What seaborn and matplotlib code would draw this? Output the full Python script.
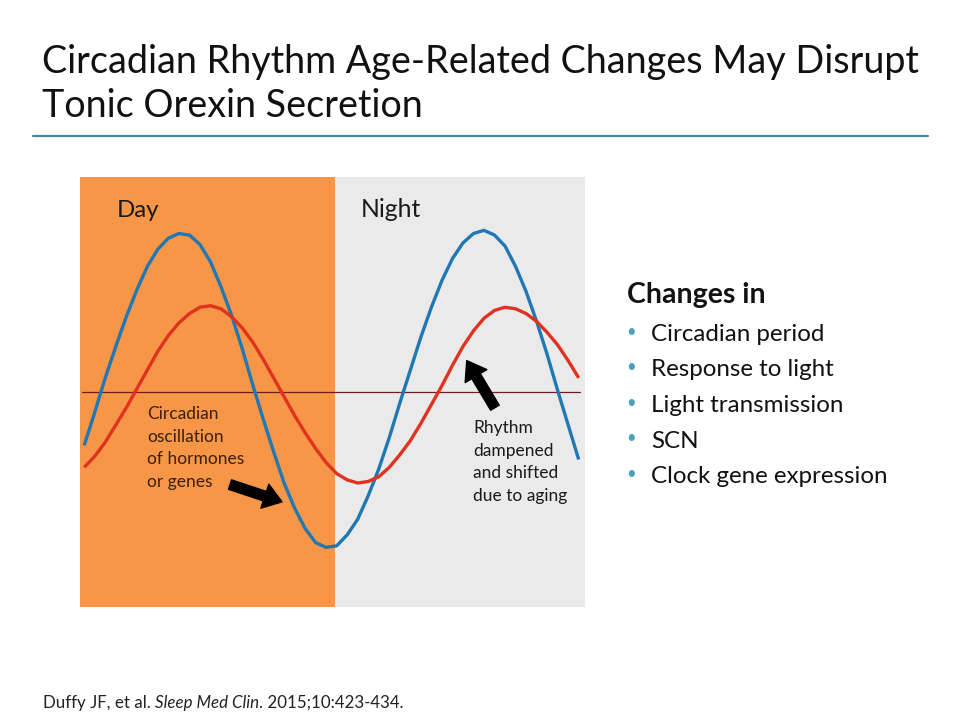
import numpy as np
import pandas as pd
import matplotlib
matplotlib.use('Agg')
import matplotlib.pyplot as plt
import seaborn as sns

# time of day (hours), sampled across the panel
hours = np.arange(0.2, 23.75, 0.5)

# levels (midline = 0)
young_level = [-0.34, -0.13, 0.09, 0.29, 0.48, 0.65, 0.80, 0.91, 0.98, 1.01,
               1.00, 0.94, 0.83, 0.67, 0.49, 0.28, 0.05, -0.17, -0.38, -0.58,
               -0.74, -0.87, -0.96, -0.99, -0.98, -0.91, -0.81, -0.66, -0.49, -0.29,
               -0.07, 0.14, 0.35, 0.54, 0.71, 0.85, 0.95, 1.01, 1.03, 1.00,
               0.93, 0.80, 0.64, 0.45, 0.24, 0.01, -0.21, -0.43]
aged_level = [-0.48, -0.41, -0.32, -0.21, -0.10, 0.02, 0.14, 0.26, 0.36, 0.44,
              0.50, 0.54, 0.55, 0.53, 0.48, 0.41, 0.32, 0.21, 0.09, -0.03,
              -0.15, -0.26, -0.36, -0.45, -0.52, -0.56, -0.58, -0.57, -0.54, -0.48,
              -0.40, -0.31, -0.20, -0.08, 0.04, 0.17, 0.29, 0.39, 0.47, 0.52,
              0.54, 0.53, 0.50, 0.45, 0.38, 0.30, 0.20, 0.09]

day_end = 12.1

title_lines = ['Circadian Rhythm Age-Related Changes May Disrupt',
               'Tonic Orexin Secretion']
changes_head = 'Changes in'
changes_items = ['Circadian period', 'Response to light', 'Light transmission',
                 'SCN', 'Clock gene expression']
note_left = ['Circadian', 'oscillation', 'of hormones', 'or genes']
note_right = ['Rhythm', 'dampened', 'and shifted', 'due to aging']
cite_parts = [('Duffy JF, et al. ', 'normal'), ('Sleep Med Clin', 'italic'),
              ('. 2015;10:423-434.', 'normal')]

df = pd.DataFrame({
    'hour': np.concatenate([hours, hours]),
    'level': young_level + aged_level,
    'curve': ['young'] * len(hours) + ['aged'] * len(hours),
})

sns.set_style('white')
plt.rcParams['font.family'] = ['Lato', 'DejaVu Sans']

W, H = 960, 720
fig = plt.figure(figsize=(9.6, 7.2), dpi=100)


def fx(px):
    return px / W


def fy(py):
    return 1 - py / H


ax = fig.add_axes([fx(80), fy(607), fx(585) - fx(80), fy(177) - fy(607)])
ax.axvspan(0, day_end, color='#F79646', lw=0, zorder=0)
ax.axvspan(day_end, 24, color='#EAEAEA', lw=0, zorder=0)
ax.axhline(0, xmin=0.003, xmax=0.99, color='#6b1f1f', lw=0.9, zorder=1)

sns.lineplot(data=df, x='hour', y='level', hue='curve',
             palette={'young': '#1f78b4', 'aged': '#e0321f'},
             linewidth=2.4, legend=False, errorbar=None, ax=ax, zorder=2,
             solid_joinstyle='round', solid_capstyle='butt')

ax.set_xlim(0, 24)
ax.set_ylim(-1.37, 1.37)
ax.set_xticks([])
ax.set_yticks([])
ax.set_xlabel('')
ax.set_ylabel('')
for s in ax.spines.values():
    s.set_visible(False)

arrow = dict(arrowstyle='simple,head_length=1.0,head_width=1.4,tail_width=0.55',
             color='black', shrinkA=0, shrinkB=0, mutation_scale=13)
ax.annotate('', xy=(9.6, -0.70), xytext=(7.13, -0.59), arrowprops=arrow)
ax.annotate('', xy=(18.38, 0.20), xytext=(19.72, -0.10), arrowprops=arrow)

# title
for i, line in enumerate(title_lines):
    fig.text(fx(42), fy(73 + 44 * i), line, fontsize=27.2, color='#111111',
             va='baseline')
fig.add_artist(plt.Line2D([fx(33), fx(928)], [fy(136), fy(136)],
                          color='#3f8c9e', lw=1.6))

# day / night labels
fig.text(fx(117), fy(217), 'Day', fontsize=17.3, color='#1a1a1a', va='baseline')
fig.text(fx(361), fy(217), 'Night', fontsize=17.8, color='#1a1a1a', va='baseline')

for i, line in enumerate(note_left):
    fig.text(fx(147), fy(419 + 22.7 * i), line, fontsize=12.5,
             color='#3a2010', va='baseline')
for i, line in enumerate(note_right):
    fig.text(fx(473), fy(433 + 22.7 * i), line, fontsize=12.5,
             color='#1a1a1a', va='baseline')

# right hand list
fig.text(fx(627), fy(303), changes_head, fontsize=20.5, fontweight='bold',
         color='#111111', va='baseline')
for i, item in enumerate(changes_items):
    yb = 341 + 35.5 * i
    fig.text(fx(631), fy(yb - 9), u'\u2022', fontsize=12, color='#4aa0bd',
             ha='center', va='center')
    fig.text(fx(651), fy(yb), item, fontsize=17.4, color='#111111',
             va='baseline')

# citation with italic journal name
fig.canvas.draw()
rend = fig.canvas.get_renderer()
cx = fx(43)
for piece, style in cite_parts:
    t = fig.text(cx, fy(708), piece, fontsize=12.2, style=style,
                 color='#222222', va='baseline')
    bb = t.get_window_extent(rend)
    cx = bb.x1 / fig.bbox.width

fig.savefig('out.png', dpi=100)
